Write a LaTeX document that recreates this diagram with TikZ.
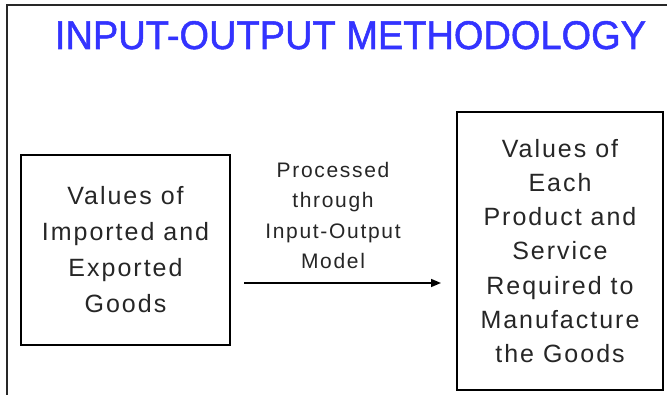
\documentclass[tikz,border=0pt]{standalone}
\usepackage{fontspec}
\setmainfont{Liberation Sans}
\newfontfamily\bodyfont[LetterSpace=8]{Liberation Sans}
\newfontfamily\titlefont[FakeBold=1.3]{Liberation Sans}
\usetikzlibrary{arrows.meta}
\definecolor{titleblue}{RGB}{51,51,255}
\definecolor{framegray}{RGB}{40,40,40}
\begin{document}
\begin{tikzpicture}[x=1pt,y=-1pt,
  box/.style={draw=black,line width=2pt,rectangle,inner sep=0pt,align=center,text=black!85},
  framestyle/.style={draw=framegray,line width=1.5pt},
  flow/.style={draw=black,line width=1.6pt,-{Triangle[length=10pt,width=8pt]}}]
\useasboundingbox (0,0) rectangle (667,395);
\fill[white] (0,0) rectangle (667,395);
% outer frame (top and left edges)
\coordinate (ftr) at (667,5);
\coordinate (ftl) at (7,5);
\coordinate (fbl) at (7,395);
\draw[framestyle] (ftr) -- (ftl) -- (fbl);
% title
\node[anchor=base,inner sep=0pt,text=titleblue] (title) at (350.5,49)
  {\scalebox{0.95}[1]{\titlefont\fontsize{40}{40}\selectfont INPUT-OUTPUT METHODOLOGY}};
% left box
\node[box,minimum width=209pt,minimum height=190pt,
  font=\bodyfont\fontsize{25}{36}\selectfont] (src) at (125.5,250)
  {Values of\\Imported and\\Exported\\Goods};
% right box
\node[box,minimum width=206pt,minimum height=278pt,
  font=\bodyfont\fontsize{25}{34.2}\selectfont] (dst) at (560,251)
  {Values of\\Each\\Product and\\Service\\Required to\\Manufacture\\the Goods};
% arrow
\coordinate (as) at ([xshift=13pt]src.east |- 0,283);
\coordinate (ae) at ([xshift=-15pt]dst.west |- 0,283);
\draw[flow] (as) -- (ae);
\node[inner sep=0pt,align=center,text=black!85,
  font=\bodyfont\fontsize{21}{30.3}\selectfont] (lbl) at (333,215.5)
  {Processed\\through\\Input-Output\\Model};
\end{tikzpicture}
\end{document}
